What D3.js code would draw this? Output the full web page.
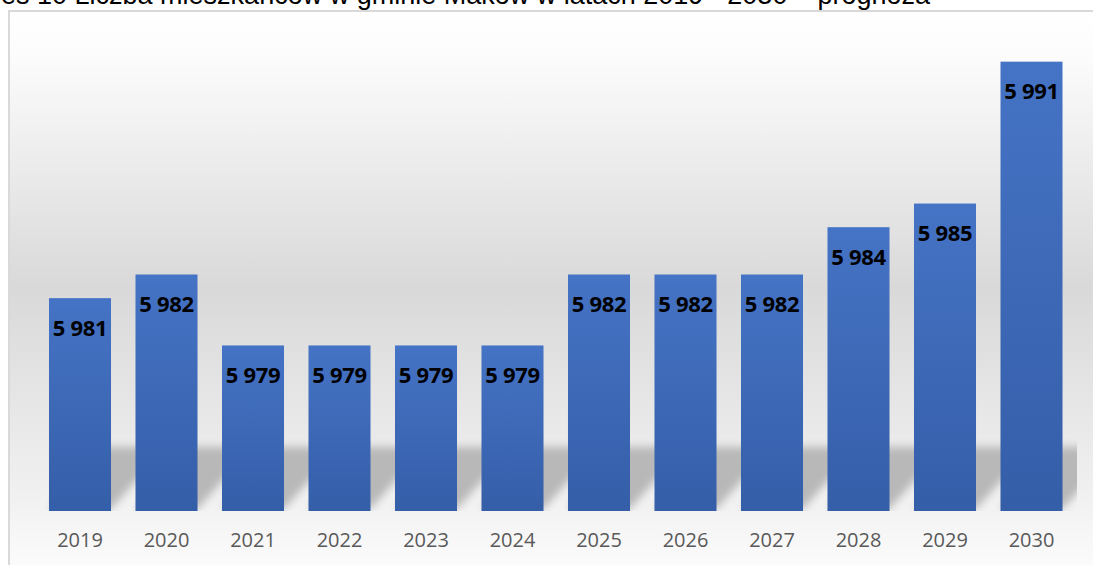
<!DOCTYPE html>
<html>
<head>
<meta charset="utf-8">
<script src="https://cdn.jsdelivr.net/npm/d3@7"></script>
<style>
  body { margin: 0; background: #fff; overflow: hidden; }
</style>
</head>
<body>
<svg id="chart"></svg>
<script>
const years = ["2019", "2020", "2021", "2022", "2023", "2024", "2025", "2026", "2027", "2028", "2029", "2030"];
const population = [5981, 5982, 5979, 5979, 5979, 5979, 5982, 5982, 5982, 5984, 5985, 5991];
const titleText = "Wykres 10 Liczba mieszkańców w gminie Maków w latach 2019 - 2030 – prognoza";

const width = 1093, height = 565;
const svg = d3.select("#chart").attr("width", width).attr("height", height);

const plot = { left: 37, right: 1077, top: 38, bottom: 511 };

const defs = svg.append("defs");

// chart background: white at top, grey in the middle, almost white at the bottom
const chartBg = defs.append("linearGradient").attr("id", "chartBg")
    .attr("gradientUnits", "userSpaceOnUse")
    .attr("x1", 0).attr("y1", 11).attr("x2", 0).attr("y2", height);
chartBg.append("stop").attr("offset", "0%").attr("stop-color", "#ffffff");
chartBg.append("stop").attr("offset", "8%").attr("stop-color", "#fcfcfc");
chartBg.append("stop").attr("offset", "50%").attr("stop-color", "#d9d9d9");
chartBg.append("stop").attr("offset", "88%").attr("stop-color", "#f1f1f1");
chartBg.append("stop").attr("offset", "100%").attr("stop-color", "#fbfbfb");

const barGrad = defs.append("linearGradient").attr("id", "barGrad")
    .attr("x1", 0).attr("y1", 0).attr("x2", 0).attr("y2", 1);
barGrad.append("stop").attr("offset", "0%").attr("stop-color", "#4573c5");
barGrad.append("stop").attr("offset", "100%").attr("stop-color", "#355ea8");

defs.append("filter").attr("id", "blur")
    .attr("x", "-30%").attr("y", "-30%").attr("width", "160%").attr("height", "160%")
    .append("feGaussianBlur").attr("stdDeviation", 4);

defs.append("clipPath").attr("id", "plotClip")
    .append("rect")
    .attr("x", plot.left).attr("y", plot.top)
    .attr("width", plot.right - plot.left).attr("height", plot.bottom - plot.top);

// title (cut off at the top in the source)
svg.append("text")
    .attr("x", 930).attr("y", 4)
    .attr("text-anchor", "end")
    .attr("font-family", "Liberation Sans, Arial, sans-serif")
    .attr("font-size", 27)
    .attr("fill", "#000")
    .text(titleText);

// chart frame
svg.append("rect")
    .attr("x", 9).attr("y", 11)
    .attr("width", width).attr("height", height)
    .attr("fill", "url(#chartBg)")
    .attr("stroke", "#d9d9d9")
    .attr("stroke-width", 2);

const x = d3.scaleBand()
    .domain(years)
    .range([36.75, 1074.75])
    .paddingInner(0.283)
    .paddingOuter(0.1415);

const y = d3.scaleLinear()
    .domain([5972, 5992])
    .range([plot.bottom, plot.top]);

// bar shadows
const shadowG = svg.append("g").attr("clip-path", "url(#plotClip)");
shadowG.selectAll("polygon")
    .data(years)
    .join("polygon")
    .attr("points", d => {
        const x0 = x(d), x1 = x(d) + x.bandwidth(), b = plot.bottom - 2, dx = 55, h = 62;
        return [[x0, b], [x1, b], [x1 + dx, b - h], [x0 + dx, b - h]].map(p => p.join(",")).join(" ");
    })
    .attr("fill", "#b8b8b8")
    .attr("filter", "url(#blur)");

svg.append("g")
    .selectAll("rect")
    .data(years)
    .join("rect")
    .attr("x", d => x(d))
    .attr("width", x.bandwidth())
    .attr("y", (d, i) => y(population[i]))
    .attr("height", (d, i) => y.range()[0] - y(population[i]))
    .attr("fill", "url(#barGrad)");

const fmt = v => d3.format(",")(v).replace(",", " ");

svg.append("g")
    .selectAll("text")
    .data(years)
    .join("text")
    .attr("x", d => x(d) + x.bandwidth() / 2)
    .attr("y", (d, i) => y(population[i]) + 30)
    .attr("dy", "0.35em")
    .attr("text-anchor", "middle")
    .attr("font-family", "Open Sans, Liberation Sans, sans-serif")
    .attr("font-weight", "bold")
    .attr("font-size", 22)
    .attr("letter-spacing", -0.3)
    .attr("fill", "#000")
    .text((d, i) => fmt(population[i]));

const xAxis = svg.append("g")
    .attr("transform", `translate(0,${plot.bottom})`)
    .call(d3.axisBottom(x).tickSize(0).tickPadding(22));
xAxis.select(".domain").remove();
xAxis.selectAll("text")
    .attr("font-family", "Open Sans, Liberation Sans, sans-serif")
    .attr("font-size", 20)
    .attr("fill", "#595959");
</script>
</body>
</html>
